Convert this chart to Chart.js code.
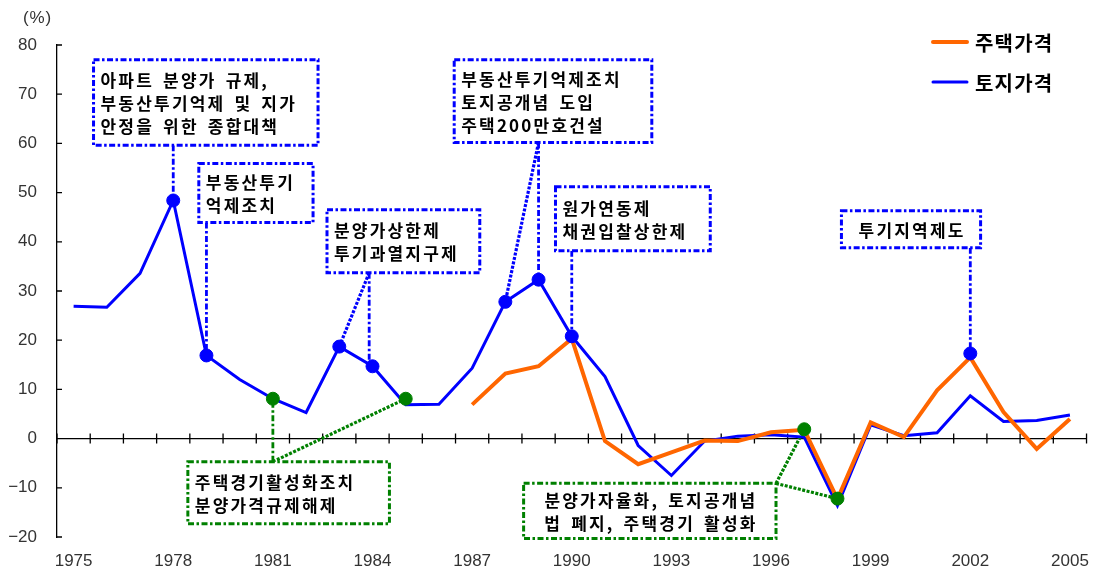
<!DOCTYPE html>
<html>
<head>
<meta charset="utf-8">
<script src="https://cdn.jsdelivr.net/npm/chart.js@4"></script>
<style>
  html, body { margin: 0; padding: 0; background: #fff; }
  #wrap { width: 1103px; height: 575px; position: relative; }
</style>
</head>
<body>
<div id="wrap"><canvas id="chart"></canvas></div>
<script>
const years = [1975, 1976, 1977, 1978, 1979, 1980, 1981, 1982, 1983, 1984, 1985, 1986, 1987, 1988, 1989, 1990,
  1991, 1992, 1993, 1994, 1995, 1996, 1997, 1998, 1999, 2000, 2001, 2002, 2003, 2004, 2005];
const housePrice = [null, null, null, null, null, null, null, null, null, null, null, null,
  6.9, 13.2, 14.7, 20.3, -0.5, -5.2, -2.8, -0.4, -0.5, 1.3, 1.8, -12.3, 3.3, 0.3, 9.8, 16.5, 5.4, -2.1, 4.0];
const landPrice = [26.9, 26.7, 33.6, 48.4, 16.9, 12.0, 8.1, 5.3, 18.7, 14.7, 6.9, 7.0, 14.3, 27.8, 32.3, 20.8,
  12.6, -1.4, -7.5, -0.5, 0.5, 0.8, 0.3, -13.6, 2.8, 0.6, 1.2, 8.7, 3.5, 3.7, 4.8];

// policy markers
const blueMarkYears = [1978, 1979, 1983, 1984, 1988, 1989, 1990, 2002];
const blueMarkValues = [48.4, 16.9, 18.7, 14.7, 27.8, 32.3, 20.8, 17.3];
const greenMarkYears = [1981, 1985, 1997, 1998];
const greenMarkValues = [8.1, 8.1, 1.9, -12.2];

const yMin = -20, yMax = 80, yStep = 10;
const seriesNames = ['주택가격', '토지가격'];

const BLUE = '#0000ff', ORANGE = '#ff6600', GREEN = '#008000';

function markSeries(ys, vs) {
  return years.map(function (y) {
    const i = ys.indexOf(y);
    return i < 0 ? null : vs[i];
  });
}
function markValue(year) {
  let i = blueMarkYears.indexOf(year);
  if (i >= 0) return blueMarkValues[i];
  i = greenMarkYears.indexOf(year);
  return greenMarkValues[i];
}

// annotation boxes: box = [left year, top value, right year, bottom value]
const notes = [
  { lines: ['아파트 분양가 규제,', '부동산투기억제 및 지가', '안정을 위한 종합대책'], box: [1975.6, 77.0, 1982.36, 59.6],
    color: BLUE, align: 'left', from: 1978, edge: 'bottom', links: [[1978, 'v']] },
  { lines: ['부동산투기', '억제조치'], box: [1978.77, 55.9, 1982.21, 43.9],
    color: BLUE, align: 'left', from: 1979, edge: 'bottom', links: [[1979, 'v']] },
  { lines: ['분양가상한제', '투기과열지구제'], box: [1982.63, 46.5, 1987.23, 33.7],
    color: BLUE, align: 'left', from: 1983.9, edge: 'bottom', links: [[1983, 'd'], [1984, 'v']] },
  { lines: ['부동산투기억제조치', '토지공개념 도입', '주택200만호건설'], box: [1986.46, 77.0, 1992.41, 60.2],
    color: BLUE, align: 'left', from: 1989, edge: 'bottom', links: [[1988, 'd'], [1989, 'v']] },
  { lines: ['원가연동제', '채권입찰상한제'], box: [1989.51, 51.2, 1994.17, 38.2],
    color: BLUE, align: 'left', from: 1990, edge: 'bottom', links: [[1990, 'v']] },
  { lines: ['투기지역제도'], box: [1998.12, 46.3, 2002.31, 38.8],
    color: BLUE, align: 'center', from: 2002, edge: 'bottom', links: [[2002, 'v']] },
  { lines: ['주택경기활성화조치', '분양가격규제해제'], box: [1978.44, -4.7, 1984.51, -17.3],
    color: GREEN, align: 'left', from: 1981, edge: 'top', links: [[1981, 'v'], [1985, 'd']] },
  { lines: ['분양가자율화, 토지공개념', '법 폐지, 주택경기 활성화'], box: [1988.55, -9.1, 1996.15, -20.3],
    color: GREEN, align: 'center', from: 1996.15, edge: 'top', links: [[1997, 'd'], [1998, 'd']] }
];

const KFONT = '"Noto Sans CJK KR", "Noto Sans", sans-serif';

// draw text one glyph at a time so letter spacing works everywhere
function fillSpaced(ctx, s, x, y, gap, align) {
  const chars = Array.from(s);
  const w = chars.map(function (c) { return ctx.measureText(c).width + (c === ' ' ? 3 : 0); });
  let total = gap * (chars.length - 1);
  w.forEach(function (v) { total += v; });
  let cx = align === 'center' ? x - total / 2 : x;
  ctx.textAlign = 'left';
  chars.forEach(function (c, i) {
    ctx.fillText(c, cx, y);
    cx += w[i] + gap;
  });
}

const decor = {
  id: 'decor',
  beforeDatasetsDraw(chart) {
    const ctx = chart.ctx, xs = chart.scales.x, ys = chart.scales.y, a = chart.chartArea;
    const px = function (yr) { return xs.getPixelForValue(yr - years[0]); };
    ctx.save();
    // zero line with crossing ticks
    const y0 = ys.getPixelForValue(0);
    ctx.strokeStyle = '#000';
    ctx.lineWidth = 1.3;
    ctx.beginPath();
    ctx.moveTo(a.left, y0);
    ctx.lineTo(a.right, y0);
    for (let i = 0; i <= years.length; i++) {
      const x = xs.getPixelForValue(i - 0.5);
      ctx.moveTo(x, y0 - 5);
      ctx.lineTo(x, y0 + 5);
    }
    // inward y ticks
    for (let v = yMin; v <= yMax; v += yStep) {
      const y = ys.getPixelForValue(v);
      ctx.moveTo(a.left, y);
      ctx.lineTo(a.left + 5, y);
    }
    ctx.stroke();

    // boxes and connectors
    notes.forEach(function (n) {
      const l = px(n.box[0]), r = px(n.box[2]);
      const t = ys.getPixelForValue(n.box[1]), b = ys.getPixelForValue(n.box[3]);
      ctx.strokeStyle = n.color;
      const sx = px(n.from), sy = n.edge === 'bottom' ? b : t;
      n.links.forEach(function (lk) {
        const tx = px(lk[0]), ty = ys.getPixelForValue(markValue(lk[0]));
        if (lk[1] === 'v') {
          ctx.lineWidth = 2.8;
          ctx.setLineDash([6, 2.5, 2.5, 2.5]);
        } else {
          ctx.lineWidth = 3.2;
          ctx.setLineDash([3, 1.5]);
        }
        ctx.beginPath();
        ctx.moveTo(sx, sy);
        ctx.lineTo(lk[1] === 'v' ? sx : tx, ty);
        ctx.stroke();
      });
      ctx.lineWidth = 3;
      ctx.setLineDash([6, 2.5, 2.5, 2.5]);
      ctx.fillStyle = '#fff';
      ctx.fillRect(l, t, r - l, b - t);
      ctx.strokeRect(l, t, r - l, b - t);
      ctx.setLineDash([]);
      ctx.fillStyle = '#000';
      ctx.font = 'bold 17px ' + KFONT;
      ctx.textBaseline = 'middle';
      const lh = 23;
      const cy = (t + b) / 2 - (n.lines.length - 1) * lh / 2;
      n.lines.forEach(function (s, k) {
        const x = n.align === 'center' ? (l + r) / 2 : l + 7;
        fillSpaced(ctx, s, x, cy + k * lh + 1, 2.2, n.align);
      });
    });
    ctx.restore();
  },
  afterDraw(chart) {
    const ctx = chart.ctx;
    ctx.save();
    // unit label
    ctx.fillStyle = '#333';
    ctx.font = '17px "Liberation Sans", Arial, sans-serif';
    ctx.textBaseline = 'middle';
    ctx.textAlign = 'left';
    fillSpaced(ctx, '(%)', 23, 18, 0.8, 'left');
    // legend
    const items = [[seriesNames[0], ORANGE, 4, 42], [seriesNames[1], BLUE, 3, 82]];
    items.forEach(function (it) {
      ctx.strokeStyle = it[1];
      ctx.lineWidth = it[2];
      ctx.lineCap = 'round';
      ctx.beginPath();
      ctx.moveTo(933, it[3]);
      ctx.lineTo(967, it[3]);
      ctx.stroke();
      ctx.fillStyle = '#000';
      ctx.font = 'bold 20px ' + KFONT;
      fillSpaced(ctx, it[0], 975, it[3] + 1, 1.2, 'left');
    });
    ctx.restore();
  }
};

new Chart(document.getElementById('chart'), {
  type: 'line',
  data: {
    labels: years.map(String),
    datasets: [
      {
        label: 'blue marks',
        data: markSeries(blueMarkYears, blueMarkValues),
        showLine: false,
        pointRadius: 6.5,
        pointBackgroundColor: BLUE,
        pointBorderColor: BLUE,
        order: 0
      },
      {
        label: 'green marks',
        data: markSeries(greenMarkYears, greenMarkValues),
        showLine: false,
        pointRadius: 6.5,
        pointBackgroundColor: GREEN,
        pointBorderColor: GREEN,
        order: 0
      },
      {
        label: seriesNames[0],
        data: housePrice,
        borderColor: ORANGE,
        borderWidth: 4,
        pointRadius: 0,
        tension: 0,
        fill: false,
        order: 1
      },
      {
        label: seriesNames[1],
        data: landPrice,
        borderColor: BLUE,
        borderWidth: 3,
        pointRadius: 0,
        tension: 0,
        fill: false,
        order: 2
      }
    ]
  },
  options: {
    responsive: true,
    maintainAspectRatio: false,
    animation: false,
    layout: { padding: { top: 45, right: 10, left: 0, bottom: 0 } },
    scales: {
      x: {
        offset: true,
        grid: { display: false, drawTicks: false },
        border: { display: false },
        ticks: {
          autoSkip: false,
          maxRotation: 0,
          padding: 14,
          color: '#333',
          font: { family: '"Liberation Sans", Arial, sans-serif', size: 17 },
          callback: function (v, i) {
            return (years[i] - years[0]) % 3 === 0 ? String(years[i]) : '';
          }
        },
        afterFit: function (s) { s.height = 38; }
      },
      y: {
        min: yMin,
        max: yMax,
        grid: { display: false, drawTicks: false },
        border: { display: true, color: '#000', width: 1.3 },
        ticks: {
          stepSize: yStep,
          padding: 20,
          color: '#333',
          font: { family: '"Liberation Sans", Arial, sans-serif', size: 17 },
          callback: function (v) { return String(v).replace('-', '\u2212'); }
        },
        afterFit: function (s) { s.width = 57; }
      }
    },
    plugins: {
      legend: { display: false },
      tooltip: { enabled: false }
    }
  },
  plugins: [decor]
});
</script>
</body>
</html>
